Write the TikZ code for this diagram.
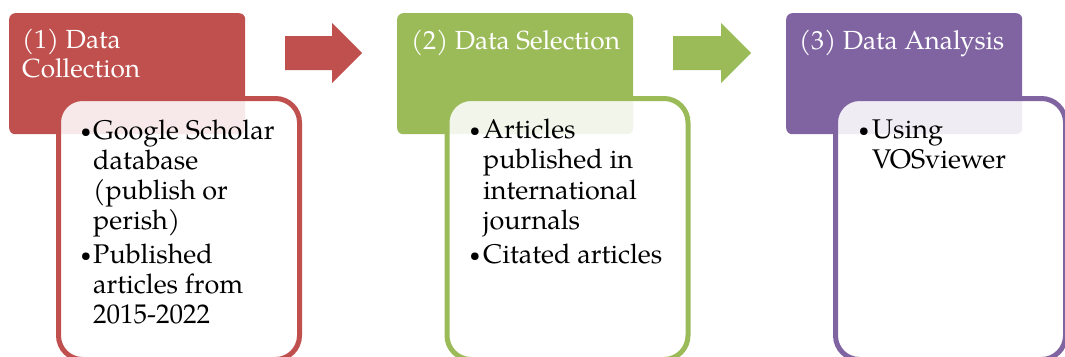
\documentclass[tikz,border=0pt]{standalone}
\usepackage{fontspec}
\setmainfont{TeX Gyre Pagella}
\definecolor{cred}{HTML}{C0504D}
\definecolor{cgreen}{HTML}{9BBB59}
\definecolor{cpurple}{HTML}{8064A2}
\begin{document}
\begin{tikzpicture}[x=1pt,y=-1pt,
  head/.style={fill=#1, rounded corners=6pt, inner sep=0pt, anchor=north west,
    minimum width=236pt, minimum height=121pt},
  panel/.style={draw=#1, line width=5pt, fill=white, fill opacity=0.88, draw opacity=1,
    rounded corners=24pt, inner sep=0pt, anchor=north west,
    minimum width=241pt, minimum height=261pt},
  blockarrow/.style={fill=#1},
  htext/.style={anchor=base west, inner sep=0pt, text=white, font=\fontsize{26.2}{30}\selectfont},
  btext/.style={anchor=base west, inner sep=0pt, text=black, font=\fontsize{27}{30}\selectfont},
  bul/.style={anchor=base, inner sep=0pt, text=black, font=\fontsize{19}{20}\selectfont}]
\useasboundingbox (0,0) rectangle (1065,356);
% headers
\node[head=cred] (h1) at (9,13) {};
\node[head=cgreen] (h2) at (397,13) {};
\node[head=cpurple] (h3) at (786,13) {};
% panels
\node[panel=cred] (p1) at (56,96) {};
\node[panel=cgreen] (p2) at (444.5,96) {};
\node[panel=cpurple,minimum width=230pt] (p3) at (833,96) {};
% block arrows
\fill[blockarrow=cred] (285,36) -- (332,36) -- (332,23) -- (362,53) -- (332,83) -- (332,70) -- (285,70) -- cycle;
\fill[blockarrow=cgreen] (673,36) -- (721,36) -- (721,23) -- (751,53) -- (721,83) -- (721,70) -- (673,70) -- cycle;
% header texts
\node[htext] (t1a) at (22,48) {(1) Data};
\node[htext] (t1b) at (22,77) {Collection};
\node[htext] (t2) at (411,49) {(2) Data Selection};
\node[htext] (t3) at (799,49) {(3) Data Analysis};
% body texts box 1
\node[bul] (ba1) at (86,137) {•};
\node[btext] (a1) at (93,139) {Google Scholar};
\node[btext] (a2) at (93,169) {database};
\node[btext] (a3) at (93,199) {(publish or};
\node[btext] (a4) at (93,229) {perish)};
\node[bul] (ba5) at (86,261) {•};
\node[btext] (a5) at (93,263) {Published};
\node[btext] (a6) at (93,293) {articles from};
\node[btext] (a7) at (93,323) {2015-2022};
% body texts box 2
\node[bul] (bb1) at (475,136) {•};
\node[btext] (b1) at (483,138) {Articles};
\node[btext] (b2) at (483,168) {published in};
\node[btext] (b3) at (483,199) {international};
\node[btext] (b4) at (483,229) {journals};
\node[bul] (bb5) at (475,261) {•};
\node[btext] (b5) at (483,263) {Citated articles};
% body texts box 3
\node[bul] (bc1) at (864,136) {•};
\node[btext] (c1) at (872,138) {Using};
\node[btext] (c2) at (872,168) {VOSviewer};
\end{tikzpicture}
\end{document}
